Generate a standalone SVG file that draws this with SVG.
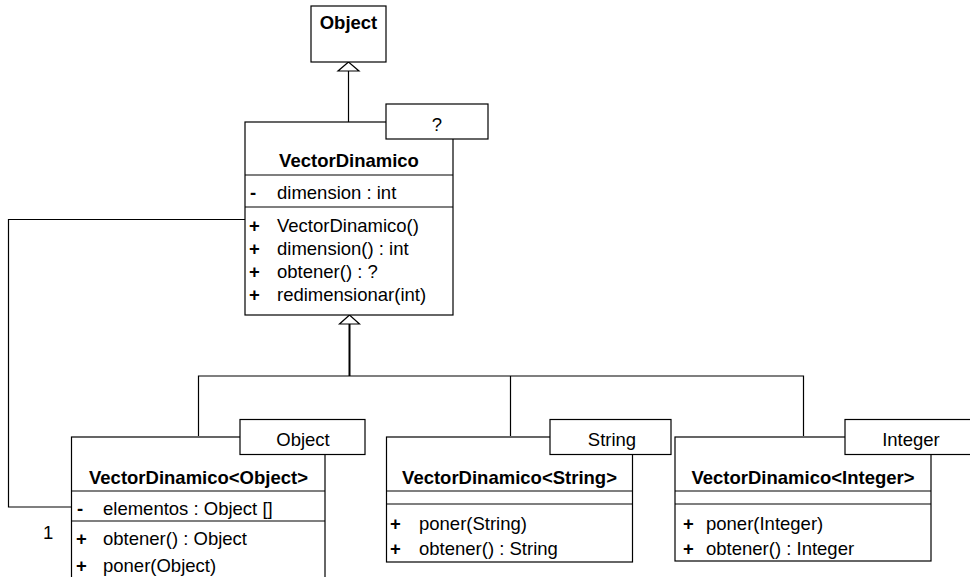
<svg xmlns="http://www.w3.org/2000/svg" width="970" height="577" viewBox="0 0 970 577">
  <style>
    .box { fill: #fff; stroke: #000; stroke-width: 1.2; }
    .sep { stroke: #000; stroke-width: 1.2; }
    .line { fill: none; stroke: #000; stroke-width: 1.2; }
    .thick { fill: none; stroke: #000; stroke-width: 2; }
    .tri { fill: #fff; stroke: #000; stroke-width: 1.2; }
    text { font-family: "Liberation Sans", Arial, sans-serif; font-size: 18.5px; fill: #000; }
    .title { font-weight: bold; text-anchor: middle; }
    .mid { text-anchor: middle; }
    .sym { font-weight: bold; }
  </style>

  <!-- connectors -->
  <g id="connectors">
    <!-- VectorDinamico generalizes Object -->
    <line class="line" x1="348.5" y1="71" x2="348.5" y2="122"/>
    <polygon class="tri" points="348.5,62 338,71 359,71"/>
    <!-- specializations bound from VectorDinamico -->
    <line class="thick" x1="349.5" y1="324" x2="349.5" y2="376"/>
    <polyline class="line" points="198.5,436 198.5,376 803.5,376 803.5,436"/>
    <line class="line" x1="510.5" y1="376" x2="510.5" y2="436"/>
    <polygon class="tri" points="349.5,315 339.5,324 359.5,324"/>
    <!-- association between VectorDinamico and VectorDinamico<Object> -->
    <polyline class="line" points="245,219.5 8.5,219.5 8.5,507 71,507"/>
    <text x="43" y="539">1</text>
  </g>

  <!-- Object -->
  <g id="object">
    <rect class="box" x="311" y="6" width="75" height="56"/>
    <text class="title" x="348.5" y="29">Object</text>
  </g>

  <!-- VectorDinamico -->
  <g id="vector-dinamico">
    <rect class="box" x="245" y="122" width="208" height="193"/>
    <line class="sep" x1="245" y1="175" x2="453" y2="175"/>
    <line class="sep" x1="245" y1="207" x2="453" y2="207"/>
    <rect class="box" x="386" y="104" width="102" height="35"/>
    <text class="mid" x="437" y="131">?</text>
    <text class="title" x="349" y="167">VectorDinamico</text>
    <text class="sym" x="250" y="199">-</text>
    <text x="277" y="199">dimension : int</text>
    <text class="sym" x="249" y="232">+</text>
    <text x="277" y="232">VectorDinamico()</text>
    <text class="sym" x="249" y="255">+</text>
    <text x="277" y="255">dimension() : int</text>
    <text class="sym" x="249" y="278">+</text>
    <text x="277" y="278">obtener() : ?</text>
    <text class="sym" x="249" y="301">+</text>
    <text x="277" y="301">redimensionar(int)</text>
  </g>

  <!-- VectorDinamico<Object> -->
  <g id="vector-object">
    <rect class="box" x="71.5" y="437" width="253.5" height="160"/>
    <line class="sep" x1="71.5" y1="491" x2="325" y2="491"/>
    <line class="sep" x1="71.5" y1="521" x2="325" y2="521"/>
    <rect class="box" x="240" y="419.5" width="125" height="35"/>
    <text class="mid" x="303" y="446">Object</text>
    <text class="title" x="198.5" y="484">VectorDinamico&lt;Object&gt;</text>
    <text class="sym" x="77" y="515">-</text>
    <text x="103" y="515">elementos : Object []</text>
    <text class="sym" x="76" y="545">+</text>
    <text x="103" y="545">obtener() : Object</text>
    <text class="sym" x="76" y="572">+</text>
    <text x="103" y="572">poner(Object)</text>
  </g>

  <!-- VectorDinamico<String> -->
  <g id="vector-string">
    <rect class="box" x="386.5" y="437" width="246" height="125"/>
    <line class="sep" x1="386.5" y1="491" x2="632.5" y2="491"/>
    <line class="sep" x1="386.5" y1="504" x2="632.5" y2="504"/>
    <rect class="box" x="550" y="419.5" width="121" height="35"/>
    <text class="mid" x="612" y="446">String</text>
    <text class="title" x="509.5" y="484">VectorDinamico&lt;String&gt;</text>
    <text class="sym" x="390" y="530">+</text>
    <text x="419" y="530">poner(String)</text>
    <text class="sym" x="390" y="555">+</text>
    <text x="419" y="555">obtener() : String</text>
  </g>

  <!-- VectorDinamico<Integer> -->
  <g id="vector-integer">
    <rect class="box" x="675" y="437" width="256" height="124"/>
    <line class="sep" x1="675" y1="491" x2="931" y2="491"/>
    <line class="sep" x1="675" y1="504" x2="931" y2="504"/>
    <rect class="box" x="845" y="419.5" width="132" height="35"/>
    <text class="mid" x="911" y="446">Integer</text>
    <text class="title" x="803" y="484">VectorDinamico&lt;Integer&gt;</text>
    <text class="sym" x="683" y="530">+</text>
    <text x="706" y="530">poner(Integer)</text>
    <text class="sym" x="683" y="555">+</text>
    <text x="706" y="555">obtener() : Integer</text>
  </g>
</svg>
